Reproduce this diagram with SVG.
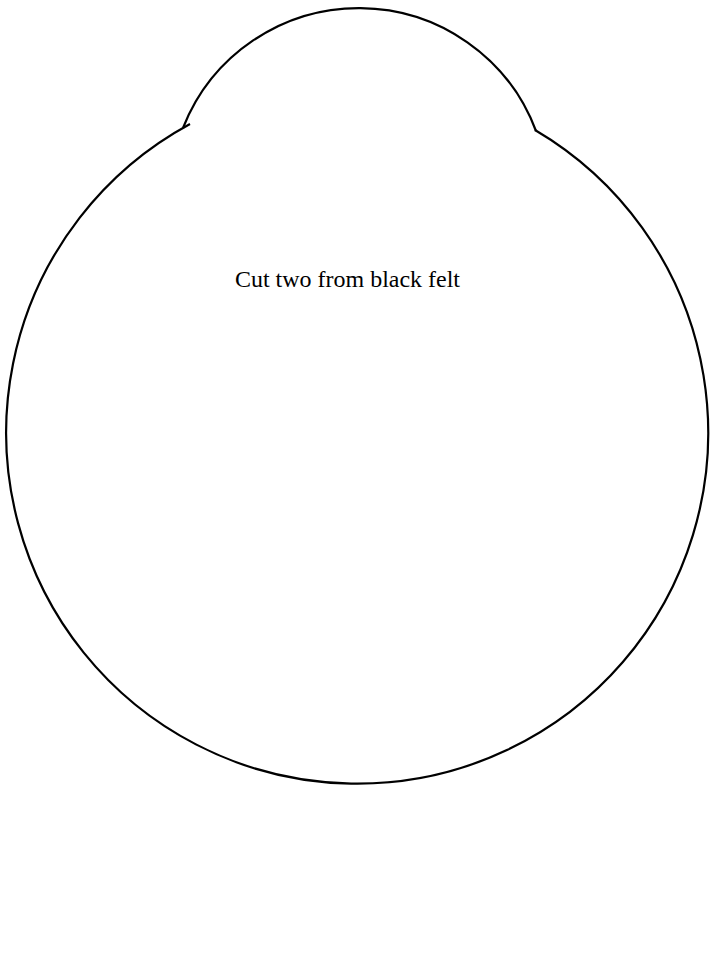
<svg xmlns="http://www.w3.org/2000/svg" width="718" height="957" viewBox="0 0 718 957">
<style>
.outline{fill:none;stroke:#000;stroke-width:2.2}
.lbl{font-family:"Liberation Serif","Times New Roman",serif;font-size:23.5px;fill:#000}
</style>
<rect width="718" height="957" fill="#fff"/>
<g id="pattern">
<path class="outline" d="M190,124 A351,351 0 1 0 535,130"/>
<path class="outline" d="M183,128 A189,189 0 0 1 536,131"/>
</g>
<text class="lbl" x="347.5" y="287" text-anchor="middle" textLength="225" lengthAdjust="spacingAndGlyphs">Cut two from black felt</text>
</svg>
